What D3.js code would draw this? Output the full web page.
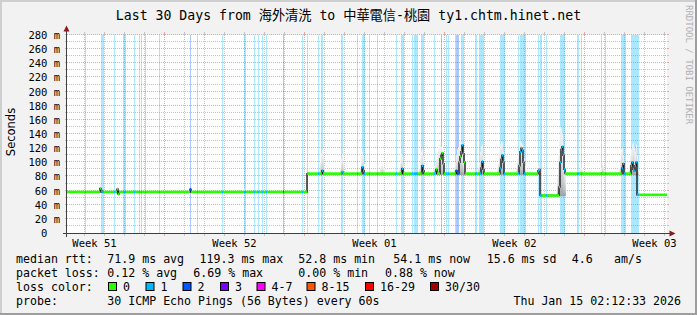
<!DOCTYPE html>
<html>
<head>
<meta charset="utf-8">
<script src="https://cdn.jsdelivr.net/npm/d3@7"></script>
<style>
body { margin: 0; background: #f2f2f2; }
svg { display: block; }
text { font-family: "DejaVu Sans Mono", "Noto Sans CJK TC", monospace; white-space: pre; }
</style>
</head>
<body>
<svg id="chart" width="697" height="315"></svg>
<script>
// ---- data (x in 72-minute samples, 600 samples = 30 days; y in ms) ----
var title = "Last 30 Days from 海外清洗 to 中華電信-桃園 ty1.chtm.hinet.net";
var yTickValues = [0, 20, 40, 60, 80, 100, 120, 140, 160, 180, 200, 220, 240, 260, 280];
var yTickLabels = ["0  ", "20 m", "40 m", "60 m", "80 m", "100 m", "120 m", "140 m", "160 m", "180 m", "200 m", "220 m", "240 m", "260 m", "280 m"];
var weekLabels = ["Week 51", "Week 52", "Week 01", "Week 02", "Week 03"];
var weekLabelSteps = [27.5, 167.5, 307.5, 447.5, 587.5];
var weekStartSteps = [97.5, 237.5, 377.5, 517.5];

var lossColors = ["#26ff00", "#00b8ff", "#0059ff", "#7e00ff", "#ff00ff", "#ff5500", "#ff0000", "#a10000"];
var lossLabels = ["0", "1", "2", "3", "4-7", "8-15", "16-29", "30/30"];

// loss markers: [sample, width, loss level]
var lossBars = [
  [18,1,1],[34,3,1],[47,1,1],[56,3,1],[67,1,1],[72,1,1],[74,1,1],[78,1,1],[92,1,1],
  [123,1,2],[130,1,1],[155,1,1],[177,2,1],[187,1,1],[191,1,1],[195,1,1],[199,1,1],
  [216,1,2],[235,1,1],[240,1,1],[251,1,1],[254,2,1],[274,2,1],[290,1,1],[295,3,1],
  [302,1,1],[310,1,1],[329,1,1],[334,3,1],[345,1,1],[347,4,1],[354,3,1],[367,1,1],
  [374,1,3],[379,1,1],[381,1,1],[388,1,1],[389,3,2],[394,3,1],[408,2,1],[412,5,1],
  [433,5,1],[451,1,1],[453,6,1],[471,1,1],[473,2,1],[479,1,1],[493,5,1],[510,2,1],
  [514,1,1],[534,1,1],[538,1,1],[554,5,1],[564,3,1],[567,5,1]
];

// median rtt: flat segments [from, to, ms] and single-sample spikes [sample, ms]
var medianSegments = [[0,240,58],[240,473,84],[473,492,53],[492,570,84],[570,600,54]];
var medianSpikes = [
  [33,63],[34,60],[50,62],[51,55],[123,62],
  [255,88],[275,86],[295,93],[296,88],[335,91],[355,95],[356,88],
  [369,90],[373,105],[374,110],[375,113],[376,98],
  [389,88],[392,100],[393,108],[394,115],[395,124],[396,112],[397,100],
  [414,92],[415,101],[416,90],
  [433,92],[434,104],[435,110],[436,100],
  [452,95],[453,115],[454,120],[455,117],[456,100],
  [471,88],[472,90],
  [492,65],[493,100],[494,118],[495,122],[496,110],[497,90],
  [555,92],[556,98],
  [564,95],[565,100],[566,90],[567,88],[568,95],[569,100]
];

// smoke: [first sample, min ms, [max ms per sample]]
var smokeGroups = [
  [32, 57, [62, 70, 66]],
  [50, 55, [65, 64]],
  [123, 57, [64]],
  [176, 57, [61, 62]],
  [252, 82, [90, 100, 112, 117, 110, 95]],
  [273, 82, [92, 105, 112, 100]],
  [293, 82, [92, 105, 115, 110, 98]],
  [313, 82, [92, 95, 97, 93, 90]],
  [332, 82, [92, 100, 112, 108, 95]],
  [352, 82, [92, 105, 115, 118, 108, 95]],
  [366, 82, [90, 95, 100, 105, 110, 118, 125, 128, 122, 115, 105, 95]],
  [387, 82, [92, 100, 110, 118, 122, 125, 130, 128, 118, 105, 95, 90]],
  [411, 82, [92, 100, 115, 122, 125, 110, 95]],
  [430, 82, [92, 100, 115, 125, 130, 128, 115, 100]],
  [449, 82, [92, 105, 115, 125, 130, 128, 125, 118, 105, 95]],
  [470, 82, [90, 95, 100, 90]],
  [490, 52, [80, 110, 135, 150, 148, 140, 120, 100, 90]],
  [511, 82, [88, 90, 92, 92, 90]],
  [533, 82, [88, 92, 98, 95, 88]],
  [552, 82, [92, 105, 118, 120, 110, 95]],
  [562, 82, [95, 110, 118, 125, 128, 120, 115, 125, 110, 90]]
];

var legendRows = [
  ["median rtt:", "71.9 ms avg", "119.3 ms max", "52.8 ms min", "54.1 ms now", "15.6 ms sd", "4.6", "am/s"],
  ["packet loss:", "0.12 % avg", "6.69 % max", "0.00 % min", "0.88 % now"],
  ["probe:", "30 ICMP Echo Pings (56 Bytes) every 60s"]
];
var probeDate = "Thu Jan 15 02:12:33 2026";

// ---- layout ----
var legendX = [
  [16, 107.3, 199.5, 298.3, 393.3, 486.7, 571.7, 614],
  [16, 107.3, 193.3, 298.3, 385],
  [16, 107.3]
];
var legendY = [263, 277, 305];
var boxX = [108, 145.5, 182.5, 220, 256.5, 306.5, 365, 430];

var svg = d3.select("#chart");
var W = 697, H = 315;

svg.append("rect").attr("width", W).attr("height", H).attr("fill", "#f2f2f2");
svg.append("rect").attr("x", 0).attr("y", 0).attr("width", W).attr("height", 2).attr("fill", "#cfcfcf");
svg.append("rect").attr("x", 0).attr("y", 0).attr("width", 2).attr("height", H).attr("fill", "#cfcfcf");
svg.append("rect").attr("x", 0).attr("y", H - 2).attr("width", W).attr("height", 2).attr("fill", "#9e9e9e");
svg.append("rect").attr("x", W - 2).attr("y", 0).attr("width", 2).attr("height", H).attr("fill", "#9e9e9e");

var x = d3.scaleLinear().domain([0, 600]).range([67, 667]);
var y = d3.scaleLinear().domain([0, 280]).range([233, 35]);

svg.append("rect")
  .attr("x", x(0)).attr("y", y(280))
  .attr("width", x(600) - x(0)).attr("height", y(0) - y(280))
  .attr("fill", "#ffffff");

// grid
var grid = svg.append("g");
var minorY = d3.range(10, 280, 20);
function crisp(v) { return Math.round(v) + 0.5; }

function hLine(v, color) {
  var yy = crisp(y(v)) - 1;
  grid.append("line").attr("x1", x(0) - 2).attr("x2", x(0)).attr("y1", yy).attr("y2", yy).attr("stroke", color);
  grid.append("line").attr("x1", x(600)).attr("x2", x(600) + 2).attr("y1", yy).attr("y2", yy).attr("stroke", color);
  grid.append("line").attr("x1", x(0)).attr("x2", x(600)).attr("y1", yy).attr("y2", yy)
    .attr("stroke", color).attr("stroke-dasharray", "1,1");
}
function vLine(s, color) {
  var xx = Math.floor(x(s)) + 0.5;
  grid.append("line").attr("x1", xx).attr("x2", xx).attr("y1", y(280) - 3).attr("y2", y(280)).attr("stroke", color);
  grid.append("line").attr("x1", xx).attr("x2", xx).attr("y1", y(0)).attr("y2", y(0) + 3).attr("stroke", color);
  grid.append("line").attr("x1", xx).attr("x2", xx).attr("y1", y(280)).attr("y2", y(0))
    .attr("stroke", color).attr("stroke-dasharray", "1,1");
}
minorY.forEach(function(v) { hLine(v, "#c4c4c4"); });
d3.range(17.5, 600, 20).forEach(function(s) {
  if (weekStartSteps.indexOf(s) < 0) vLine(s, "#c4c4c4");
});
yTickValues.slice(1).forEach(function(v) { hLine(v, "#e9a6a6"); });
weekStartSteps.forEach(function(s) { vLine(s, "#e9a6a6"); });

// loss background bars
svg.append("g").selectAll("rect")
  .data(lossBars)
  .enter().append("rect")
    .attr("x", function(d) { return x(d[0]); })
    .attr("y", y(280))
    .attr("width", function(d) { return x(d[0] + d[1]) - x(d[0]); })
    .attr("height", y(0) - y(280))
    .attr("fill", function(d) { return lossColors[d[2]]; })
    .attr("fill-opacity", 0.33);

// smoke
var defs = svg.append("defs");
var grad = defs.append("linearGradient").attr("id", "smokeUp").attr("x1", 0).attr("x2", 0).attr("y1", 0).attr("y2", 1);
grad.append("stop").attr("offset", "0%").attr("stop-color", "#f6f6f6");
grad.append("stop").attr("offset", "45%").attr("stop-color", "#e2e2e2");
grad.append("stop").attr("offset", "80%").attr("stop-color", "#c2c2c2");
grad.append("stop").attr("offset", "100%").attr("stop-color", "#9a9a9a");

var smokeCols = [];
smokeGroups.forEach(function(g) {
  g[2].forEach(function(hi, i) { smokeCols.push({ s: g[0] + i, lo: g[1], hi: hi }); });
});
svg.append("g").selectAll("rect")
  .data(smokeCols)
  .enter().append("rect")
    .attr("x", function(d) { return x(d.s); })
    .attr("width", function(d) { return x(d.s + 1) - x(d.s); })
    .attr("y", function(d) { return y(d.hi); })
    .attr("height", function(d) { return y(d.lo) - y(d.hi); })
    .attr("fill", "url(#smokeUp)")
    .attr("fill-opacity", 0.9);

// median series per sample
var median = new Array(600);
medianSegments.forEach(function(seg) {
  for (var i = seg[0]; i < seg[1]; i++) median[i] = seg[2];
});
medianSpikes.forEach(function(p) { median[p[0]] = p[1]; });
var lossAt = new Array(600).fill(0);
lossBars.forEach(function(b) {
  for (var i = b[0]; i < b[0] + b[1]; i++) lossAt[i] = b[2];
});

var pts = median.map(function(v, i) { return [i, v]; });
pts.push([600, median[599]]);
svg.append("path")
  .datum(pts)
  .attr("fill", "none")
  .attr("stroke", "#1a1a1a")
  .attr("stroke-width", 1.4)
  .attr("d", d3.line()
    .x(function(d) { return x(d[0]); })
    .y(function(d) { return y(d[1]); })
    .curve(d3.curveStepAfter));

var runs = [];
median.forEach(function(v, i) {
  var last = runs[runs.length - 1];
  if (last && last.v === v && last.l === lossAt[i]) last.e = i + 1;
  else runs.push({ s: i, e: i + 1, v: v, l: lossAt[i] });
});
svg.append("g").selectAll("line")
  .data(runs)
  .enter().append("line")
    .attr("x1", function(d) { return x(d.s); })
    .attr("x2", function(d) { return x(d.e); })
    .attr("y1", function(d) { return y(d.v); })
    .attr("y2", function(d) { return y(d.v); })
    .attr("stroke", function(d) { return lossColors[d.l]; })
    .attr("stroke-width", 2.6);

// axes
var axis = svg.append("g");
axis.append("line").attr("x1", 66.5).attr("x2", 66.5).attr("y1", y(0) + 4).attr("y2", y(280) - 5)
  .attr("stroke", "#404040");
axis.append("line").attr("x1", x(0) - 4).attr("x2", x(600) + 3).attr("y1", 233.5).attr("y2", 233.5)
  .attr("stroke", "#404040");
axis.append("path").attr("d", "M63.5,31.5 L69.5,31.5 L66.5,25.5 Z").attr("fill", "#8b1a1a");
axis.append("path").attr("d", "M669.5,230.5 L669.5,236.5 L675.5,233.5 Z").attr("fill", "#8b1a1a");

// y tick labels
svg.append("g").selectAll("text")
  .data(yTickValues)
  .enter().append("text")
    .attr("x", 60)
    .attr("y", function(d) { return y(d) + 4; })
    .attr("text-anchor", "end")
    .attr("font-size", "10.5px")
    .attr("fill", "#000")
    .text(function(d, i) { return yTickLabels[i]; });

// week labels
svg.append("g").selectAll("text")
  .data(weekLabels)
  .enter().append("text")
    .attr("x", function(d, i) { return x(weekLabelSteps[i]); })
    .attr("y", 247)
    .attr("text-anchor", "middle")
    .attr("font-size", "10.5px")
    .text(function(d) { return d; });

// title
svg.append("text")
  .attr("x", 348.5).attr("y", 20)
  .attr("text-anchor", "middle")
  .attr("font-size", "13.2px")
  .text(title);

// y axis title
svg.append("text")
  .attr("transform", "translate(15,132) rotate(-90)")
  .attr("text-anchor", "middle")
  .style("font-family", "'DejaVu Sans', sans-serif")
  .attr("font-size", "11.5px")
  .text("Seconds");

// watermark
svg.append("text")
  .attr("transform", "translate(686,5) rotate(90)")
  .attr("font-size", "9px")
  .attr("fill", "#b0b0b0")
  .text("RRDTOOL / TOBI OETIKER");

// legend
var legend = svg.append("g").attr("font-size", "11.6px");
legendRows.forEach(function(row, r) {
  row.forEach(function(t, i) {
    legend.append("text")
      .attr("x", legendX[r][i])
      .attr("y", legendY[r])
      .text(t);
  });
});
legend.append("text").attr("x", 16).attr("y", 291).text("loss color:");
lossLabels.forEach(function(l, i) {
  legend.append("rect")
    .attr("x", boxX[i] + 0.5).attr("y", 282.5)
    .attr("width", 8).attr("height", 8)
    .attr("fill", lossColors[i]).attr("stroke", "#000");
  legend.append("text")
    .attr("x", boxX[i] + 15).attr("y", 291)
    .text(l);
});
legend.append("text")
  .attr("x", 681).attr("y", 305)
  .attr("text-anchor", "end")
  .text(probeDate);
</script>
</body>
</html>
